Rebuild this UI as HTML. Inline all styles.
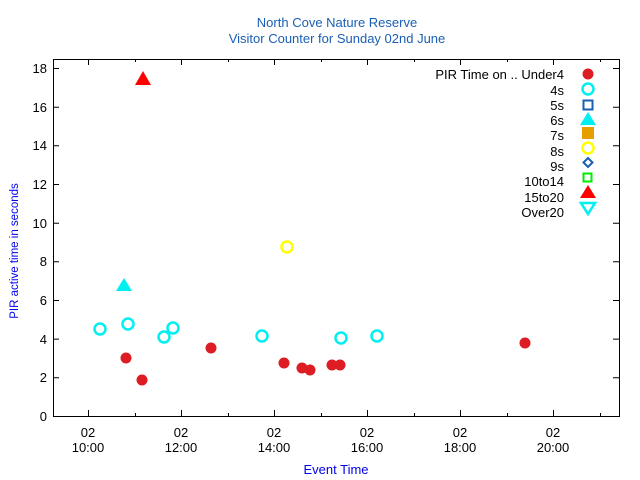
<!DOCTYPE html>
<html><head><style>body{margin:0;background:#fff}svg{display:block}</style></head><body>
<svg width="640" height="480" xmlns="http://www.w3.org/2000/svg" font-family="Liberation Sans, sans-serif" font-size="12">
<text x="337" y="27" text-anchor="middle" fill="#1a5fb4" font-size="13">North Cove Nature Reserve</text>
<text x="337" y="43" text-anchor="middle" fill="#1a5fb4" font-size="13">Visitor Counter for Sunday 02nd June</text>
<rect x="53.5" y="59.5" width="566" height="357" fill="none" stroke="#000"/>
<g stroke="#000">
<path d="M53 416.5h6M619 416.5h-6M53 377.8h6M619 377.8h-6M53 339.1h6M619 339.1h-6M53 300.5h6M619 300.5h-6M53 261.8h6M619 261.8h-6M53 223.2h6M619 223.2h-6M53 184.5h6M619 184.5h-6M53 145.8h6M619 145.8h-6M53 107.2h6M619 107.2h-6M53 68.5h6M619 68.5h-6"/>
<path d="M88.5 416v-6M88.5 59v6M181.5 416v-6M181.5 59v6M274.5 416v-6M274.5 59v6M367.5 416v-6M367.5 59v6M460.5 416v-6M460.5 59v6M553.5 416v-6M553.5 59v6"/>
<path d="M135.5 416v-3M135.5 59v3M228.5 416v-3M228.5 59v3M321.5 416v-3M321.5 59v3M414.5 416v-3M414.5 59v3M507.5 416v-3M507.5 59v3M600.5 416v-3M600.5 59v3"/>
</g>
<g text-anchor="end" fill="#000" font-size="13">
<text x="47" y="421">0</text><text x="47" y="382">2</text><text x="47" y="344">4</text><text x="47" y="305">6</text><text x="47" y="266">8</text><text x="47" y="228">10</text><text x="47" y="189">12</text><text x="47" y="150">14</text><text x="47" y="112">16</text><text x="47" y="73">18</text>
</g>
<g text-anchor="middle" fill="#000" font-size="13">
<text x="88" y="437">02</text><text x="88" y="452">10:00</text>
<text x="181" y="437">02</text><text x="181" y="452">12:00</text>
<text x="274" y="437">02</text><text x="274" y="452">14:00</text>
<text x="367" y="437">02</text><text x="367" y="452">16:00</text>
<text x="460" y="437">02</text><text x="460" y="452">18:00</text>
<text x="553" y="437">02</text><text x="553" y="452">20:00</text>
</g>
<text x="336" y="474" text-anchor="middle" fill="#0000ee" font-size="13">Event Time</text>
<text transform="translate(18,251) rotate(-90)" text-anchor="middle" fill="#0000ee" font-size="11.5">PIR active time in seconds</text>
<g fill="#000" text-anchor="end" font-size="13">
<text x="564" y="79">PIR Time on .. Under4</text><text x="564" y="95">4s</text><text x="564" y="110">5s</text><text x="564" y="125">6s</text><text x="564" y="140">7s</text><text x="564" y="156">8s</text><text x="564" y="171">9s</text><text x="564" y="186">10to14</text><text x="564" y="202">15to20</text><text x="564" y="217">Over20</text>
</g>
<circle cx="588" cy="74" r="5.5" fill="#dd1c24"/>
<circle cx="588" cy="89" r="5.5" fill="none" stroke="#00f0f0" stroke-width="2.5"/>
<rect x="583.5" y="100.5" width="9" height="9" fill="none" stroke="#1a5fb4" stroke-width="2"/>
<path d="M588 112L596 125H580Z" fill="#00f0f0"/>
<rect x="582" y="127" width="12" height="12" fill="#e69f00"/>
<circle cx="588" cy="148" r="5.5" fill="none" stroke="#ffff00" stroke-width="2.5"/>
<path d="M588 158L592.5 162.5L588 167L583.5 162.5Z" fill="none" stroke="#1a5fb4" stroke-width="2"/>
<rect x="583.5" y="173.5" width="8" height="8" fill="none" stroke="#00ee00" stroke-width="2"/>
<path d="M588 185L596 198H580Z" fill="#ff0000"/>
<path d="M581 203H595L588 214Z" fill="none" stroke="#00f0f0" stroke-width="2.5"/>
<g fill="#dd1c24">
<circle cx="126" cy="358" r="5.5"/><circle cx="142" cy="380" r="5.5"/><circle cx="211" cy="348" r="5.5"/><circle cx="284" cy="363" r="5.5"/><circle cx="302" cy="368" r="5.5"/><circle cx="310" cy="370" r="5.5"/><circle cx="332" cy="365" r="5.5"/><circle cx="340" cy="365" r="5.5"/><circle cx="525" cy="343" r="5.5"/>
</g>
<g fill="none" stroke="#00f0f0" stroke-width="2.5">
<circle cx="100" cy="329" r="5.5"/><circle cx="128" cy="324" r="5.5"/><circle cx="164" cy="337" r="5.5"/><circle cx="173" cy="328" r="5.5"/><circle cx="262" cy="336" r="5.5"/><circle cx="341" cy="338" r="5.5"/><circle cx="377" cy="336" r="5.5"/>
</g>
<path d="M124 278L132 291H116Z" fill="#00f0f0"/>
<circle cx="287" cy="247" r="5.5" fill="none" stroke="#ffff00" stroke-width="2.5"/>
<path d="M143 71L151 85H135Z" fill="#ff0000"/>
</svg>
</body></html>
